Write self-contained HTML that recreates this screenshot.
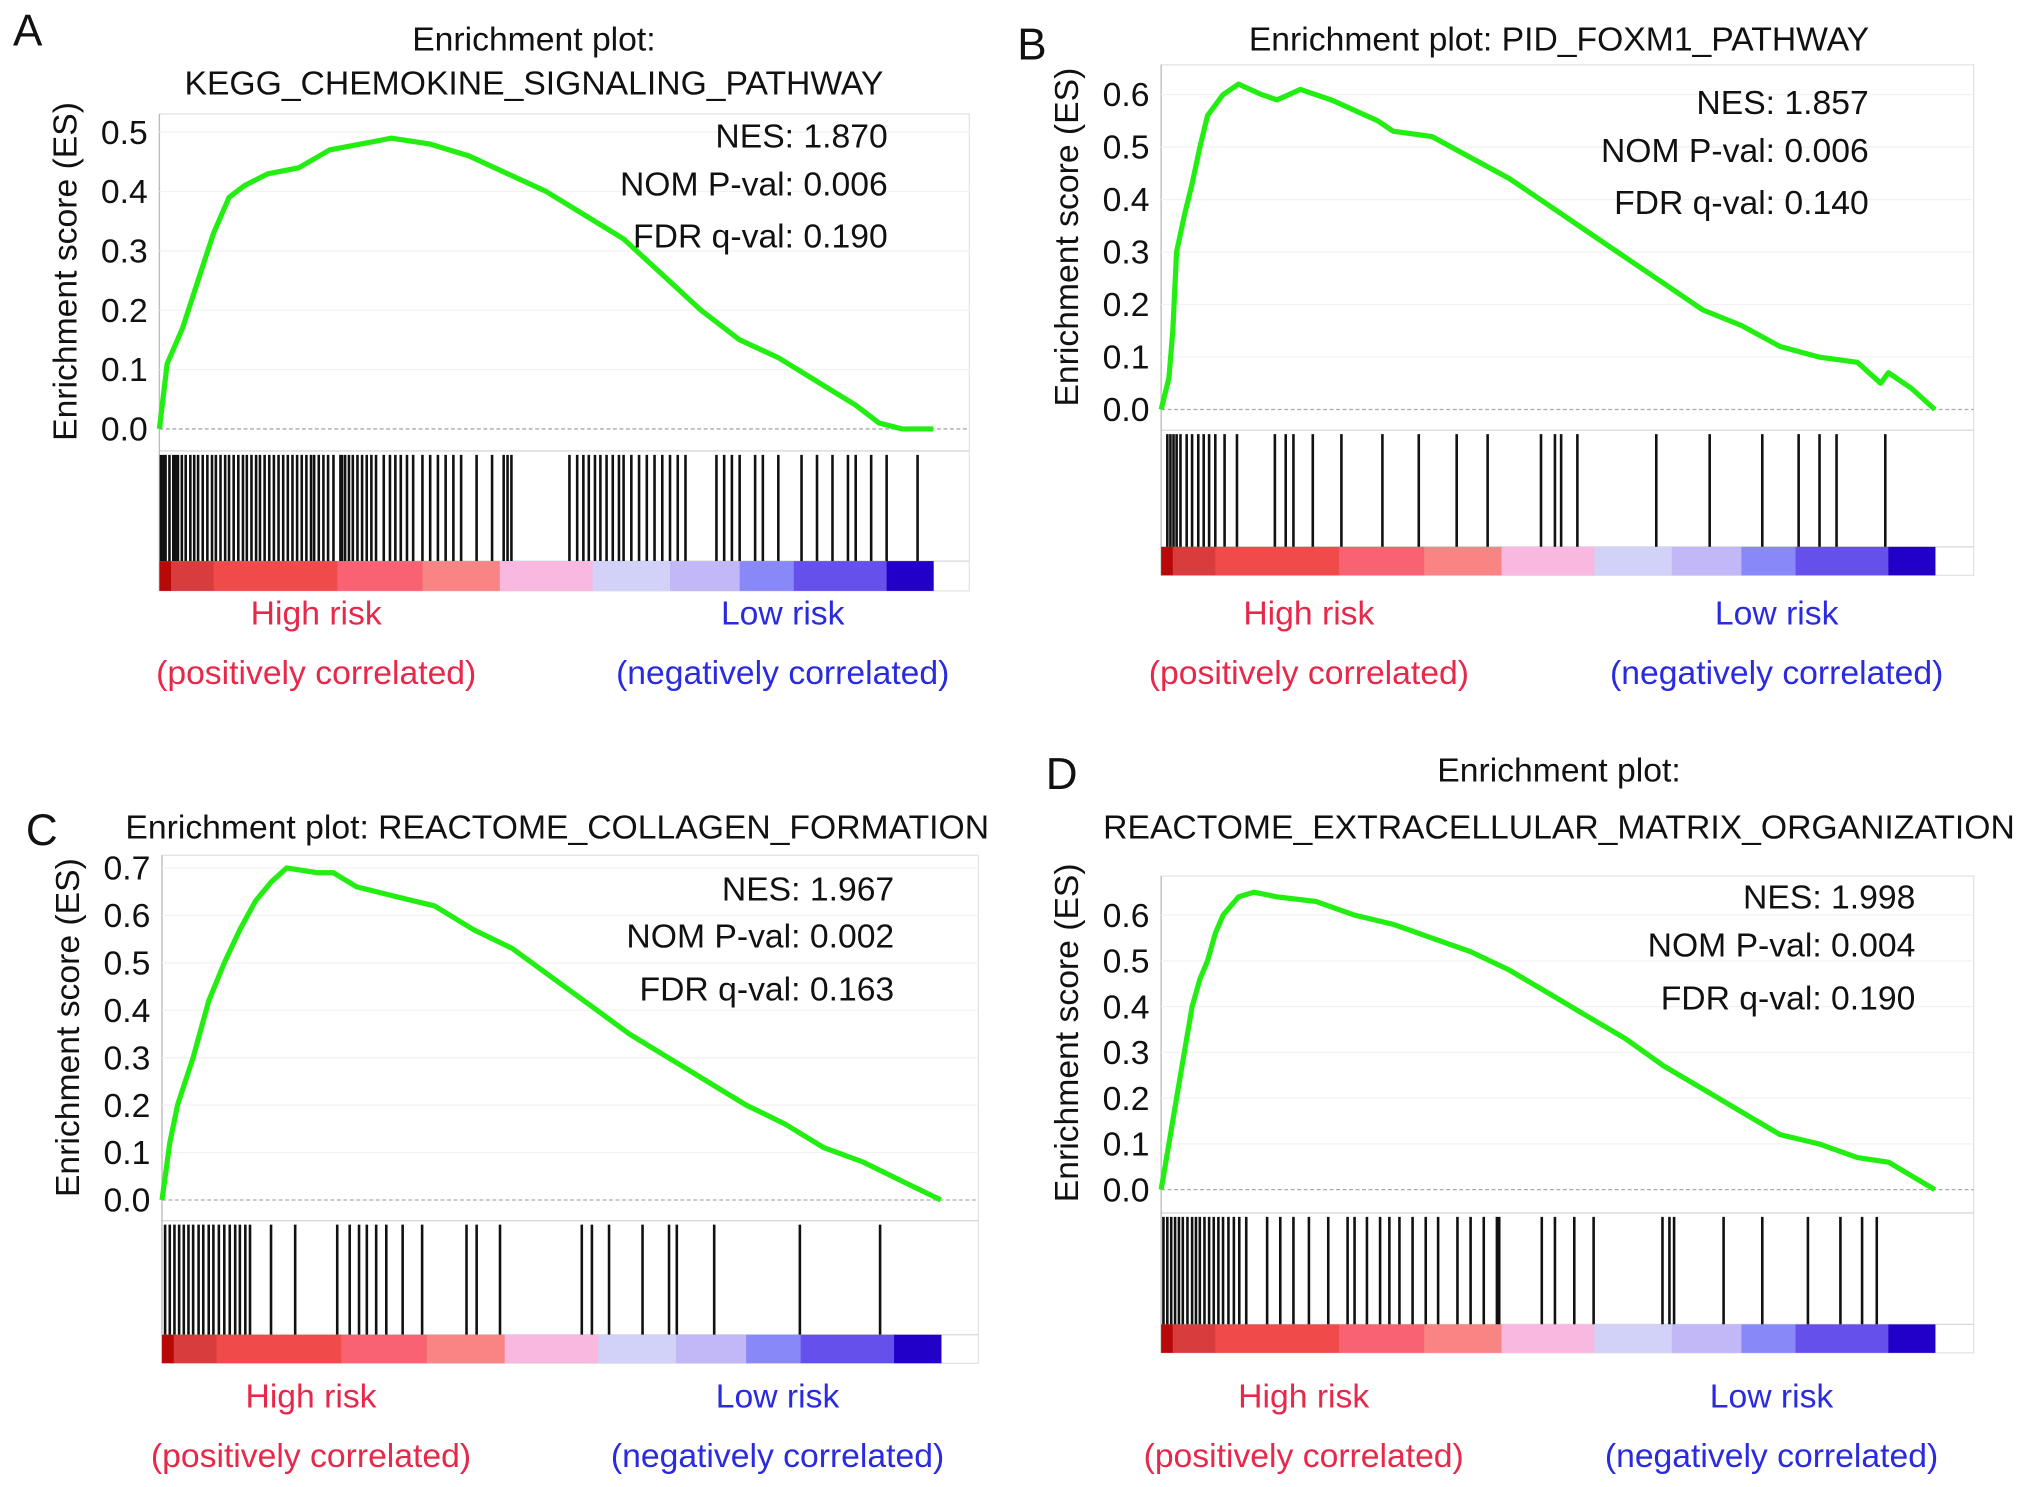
<!DOCTYPE html>
<html><head><meta charset="utf-8"><style>
html,body{margin:0;padding:0;background:#fff}
svg{display:block}
text{font-family:"Liberation Sans",sans-serif}
</style></head><body>
<svg id="fig" width="2032" height="1487" viewBox="0 0 1568 1147.5" preserveAspectRatio="none" xmlns="http://www.w3.org/2000/svg"></svg>
<script>
// ---- data (rank fraction 0..1, ES values) ----
const aRank=[0,0.01,0.03,0.05,0.07,0.09,0.11,0.14,0.18,0.22,0.26,0.30,0.35,0.40,0.45,0.50,0.55,0.60,0.65,0.70,0.75,0.80,0.85,0.90,0.93,0.96,1.0];
const aES=[0,0.11,0.17,0.25,0.33,0.39,0.41,0.43,0.44,0.47,0.48,0.49,0.48,0.46,0.43,0.40,0.36,0.32,0.26,0.20,0.15,0.12,0.08,0.04,0.01,0.0,0.0];
const aHits=[0.002,0.005,0.008,0.013,0.018,0.021,0.024,0.029,0.034,0.04,0.045,0.05,0.056,0.062,0.068,0.073,0.079,0.085,0.09,0.096,0.102,0.108,0.113,0.119,0.125,0.13,0.136,0.142,0.148,0.154,0.16,0.166,0.172,0.178,0.184,0.19,0.196,0.2,0.206,0.212,0.218,0.225,0.234,0.236,0.24,0.245,0.25,0.256,0.262,0.268,0.274,0.28,0.29,0.298,0.305,0.312,0.32,0.328,0.34,0.35,0.36,0.37,0.38,0.39,0.41,0.43,0.445,0.45,0.455,0.53,0.54,0.548,0.555,0.563,0.57,0.578,0.586,0.594,0.6,0.61,0.62,0.63,0.64,0.65,0.66,0.67,0.68,0.72,0.73,0.74,0.75,0.77,0.78,0.8,0.83,0.85,0.87,0.89,0.9,0.92,0.94,0.98];
const aStats=["NES: 1.870","NOM P-val: 0.006","FDR q-val: 0.190"];
const aTicks=["0.0","0.1","0.2","0.3","0.4","0.5"];

const bRank=[0,0.01,0.015,0.02,0.03,0.04,0.05,0.06,0.08,0.1,0.13,0.15,0.18,0.22,0.25,0.28,0.3,0.35,0.4,0.45,0.5,0.55,0.6,0.65,0.7,0.75,0.8,0.85,0.9,0.93,0.94,0.97,1];
const bES=[0,0.06,0.15,0.3,0.37,0.43,0.5,0.56,0.6,0.62,0.6,0.59,0.61,0.59,0.57,0.55,0.53,0.52,0.48,0.44,0.39,0.34,0.29,0.24,0.19,0.16,0.12,0.1,0.09,0.05,0.07,0.04,0];
const bHits=[0.008,0.012,0.016,0.02,0.025,0.033,0.04,0.048,0.055,0.062,0.07,0.082,0.098,0.147,0.161,0.171,0.196,0.233,0.286,0.333,0.382,0.422,0.491,0.509,0.517,0.538,0.64,0.709,0.777,0.824,0.851,0.873,0.936];
const bStats=["NES: 1.857","NOM P-val: 0.006","FDR q-val: 0.140"];
const bTicks=["0.0","0.1","0.2","0.3","0.4","0.5","0.6"];

const cRank=[0,0.01,0.02,0.04,0.06,0.08,0.1,0.12,0.14,0.16,0.2,0.22,0.25,0.3,0.35,0.4,0.45,0.5,0.55,0.6,0.65,0.7,0.75,0.8,0.85,0.9,0.95,1];
const cES=[0,0.12,0.2,0.3,0.42,0.5,0.57,0.63,0.67,0.7,0.69,0.69,0.66,0.64,0.62,0.57,0.53,0.47,0.41,0.35,0.3,0.25,0.2,0.16,0.11,0.08,0.04,0];
const cHits=[0.004,0.01,0.016,0.022,0.028,0.034,0.04,0.047,0.053,0.06,0.066,0.073,0.08,0.087,0.094,0.1,0.107,0.113,0.14,0.171,0.225,0.241,0.253,0.263,0.275,0.288,0.309,0.334,0.391,0.404,0.434,0.539,0.552,0.574,0.617,0.651,0.661,0.709,0.819,0.922];
const cStats=["NES: 1.967","NOM P-val: 0.002","FDR q-val: 0.163"];
const cTicks=["0.0","0.1","0.2","0.3","0.4","0.5","0.6","0.7"];

const dRank=[0,0.01,0.02,0.03,0.04,0.05,0.06,0.07,0.08,0.1,0.12,0.15,0.2,0.25,0.3,0.35,0.4,0.45,0.5,0.55,0.6,0.65,0.7,0.75,0.8,0.85,0.9,0.94,1];
const dES=[0,0.1,0.2,0.3,0.4,0.46,0.5,0.56,0.6,0.64,0.65,0.64,0.63,0.6,0.58,0.55,0.52,0.48,0.43,0.38,0.33,0.27,0.22,0.17,0.12,0.1,0.07,0.06,0];
const dHits=[0.003,0.008,0.013,0.018,0.023,0.028,0.034,0.04,0.045,0.05,0.056,0.062,0.068,0.074,0.08,0.087,0.094,0.101,0.11,0.137,0.154,0.171,0.191,0.216,0.241,0.25,0.266,0.283,0.295,0.308,0.325,0.342,0.358,0.383,0.4,0.417,0.434,0.437,0.492,0.509,0.534,0.559,0.648,0.657,0.663,0.727,0.777,0.836,0.878,0.906,0.925];
const dStats=["NES: 1.998","NOM P-val: 0.004","FDR q-val: 0.190"];
const dTicks=["0.0","0.1","0.2","0.3","0.4","0.5","0.6"];

const barStops=[0,0.015,0.07,0.23,0.34,0.44,0.56,0.66,0.75,0.82,0.94];
const barColors=["#b80808","#d83c3c","#f04a4a","#f86272","#f88484","#f8b8e0","#d2d2f8","#c2b8f8","#8888f8","#6650ec","#2200c8"];

const NS="http://www.w3.org/2000/svg";
const svg=document.getElementById('fig');
const FS=26;
function mk(tag,attrs,parent,txt){const e=document.createElementNS(NS,tag);for(const k in attrs)e.setAttribute(k,attrs[k]);if(txt!==undefined)e.textContent=txt;(parent||svg).appendChild(e);return e;}

const panels=[
 {id:'a',letter:'A',lx:10,ly:35,title:["Enrichment plot:","KEGG_CHEMOKINE_SIGNALING_PATHWAY"],ty:[39,73],tx:412,x0:123,x1:748,xe:720,top:88,y0:331,unit:45.8,esB:348,hitB:433,barB:456,statX:685,statY:[114,151,191],lab1:244,lab2:604,labY:[482,528],rank:aRank,es:aES,hits:aHits,stats:aStats,ticks:aTicks},
 {id:'b',letter:'B',lx:785,ly:46,title:["Enrichment plot: PID_FOXM1_PATHWAY"],ty:[39],tx:1203,x0:896,x1:1523,xe:1493,top:50,y0:316,unit:40.5,esB:332,hitB:422,barB:444,statX:1442,statY:[88,125,165],lab1:1010,lab2:1371,labY:[482,528],rank:bRank,es:bES,hits:bHits,stats:bStats,ticks:bTicks},
 {id:'c',letter:'C',lx:20,ly:652,title:["Enrichment plot: REACTOME_COLLAGEN_FORMATION"],ty:[647],tx:430,x0:125,x1:755,xe:726,top:660,y0:926,unit:36.6,esB:942,hitB:1030,barB:1052,statX:690,statY:[695,731,772],lab1:240,lab2:600,labY:[1086,1132],rank:cRank,es:cES,hits:cHits,stats:cStats,ticks:cTicks},
 {id:'d',letter:'D',lx:807,ly:609,title:["Enrichment plot:","REACTOME_EXTRACELLULAR_MATRIX_ORGANIZATION"],ty:[603,647],tx:1203,x0:896,x1:1523,xe:1493,top:676,y0:918,unit:35.3,esB:936,hitB:1022,barB:1044,statX:1478,statY:[701,738,779],lab1:1006,lab2:1367,labY:[1086,1132],rank:dRank,es:dES,hits:dHits,stats:dStats,ticks:dTicks}
];

panels.forEach(p=>{
 const g=mk('g',{});
 
 
 const xs=r=>p.x0+r*(p.xe-p.x0);
 const ys=v=>p.y0-v*10*p.unit;
 const L=mk('text',{x:p.lx,y:p.ly,'font-size':34,fill:'#111'},g,p.letter);
 
 
 p.title.forEach((t,i)=>{const e=mk('text',{x:p.tx,y:p.ty[i],'font-size':FS,'text-anchor':'middle',fill:'#111'},g,t);
  
  });
 const fr=mk('rect',{x:p.x0,y:p.top,width:p.x1-p.x0,height:p.barB-p.top,fill:'none',stroke:'#e4e4e4','stroke-width':1},g);
 
 
 mk('line',{x1:p.x0,x2:p.x1,y1:p.esB,y2:p.esB,stroke:'#d8d8d8'},g);
 mk('line',{x1:p.x0,x2:p.x1,y1:p.hitB,y2:p.hitB,stroke:'#d8d8d8'},g);
 mk('line',{x1:p.x0,x2:p.x0,y1:p.top,y2:p.barB,stroke:'#bbb'},g);
 const z=mk('line',{x1:p.x0,x2:p.x1,y1:p.y0,y2:p.y0,stroke:'#aaa','stroke-dasharray':'3,2'},g);
 
 
 p.ticks.forEach((t,i)=>{const e=mk('text',{x:p.x0-9,y:ys(i/10)+9,'font-size':FS,'text-anchor':'end',fill:'#111'},g,t);
  
  
  if(i>0)mk('line',{x1:p.x0,x2:p.x1,y1:ys(i/10),y2:ys(i/10),stroke:'#f2f2f2'},g);});
 const cy=(p.top+p.y0)/2;
 const yt=mk('text',{x:0,y:0,'font-size':FS,'text-anchor':'middle',fill:'#111',transform:`translate(${p.x0-64},${cy}) rotate(-90)`},g,'Enrichment score (ES)');
 
 
 p.hits.forEach(h=>{const e=mk('line',{x1:xs(h),x2:xs(h),y1:p.esB+3,y2:p.hitB,stroke:'#111','stroke-width':2},g);
  
  });
 barStops.forEach((s,i)=>{const e2=i+1<barStops.length?barStops[i+1]:1;
  const r=mk('rect',{x:xs(s),y:p.hitB,width:xs(e2)-xs(s)+0.5,height:p.barB-p.hitB,fill:barColors[i]},g);
  
  });
 const d=p.rank.map((r,i)=>(i?'L':'M')+xs(r).toFixed(1)+','+ys(p.es[i]).toFixed(1)).join(' ');
 const c=mk('path',{d:d,fill:'none',stroke:'#22ee11','stroke-width':4,'stroke-linejoin':'round'},g);
 
 
 p.stats.forEach((s,i)=>{const e=mk('text',{x:p.statX,y:p.statY[i],'font-size':FS,'text-anchor':'end',fill:'#111'},g,s);
  
  });
 [['High risk',p.lab1,p.labY[0],'#e8284a'],['(positively correlated)',p.lab1,p.labY[1],'#e8284a'],['Low risk',p.lab2,p.labY[0],'#2a2ae0'],['(negatively correlated)',p.lab2,p.labY[1],'#2a2ae0']].forEach(a=>{
  const e=mk('text',{x:a[1],y:a[2],'font-size':FS,'text-anchor':'middle',fill:a[3]},g,a[0]);
  
  });
});
</script>
</body></html>
